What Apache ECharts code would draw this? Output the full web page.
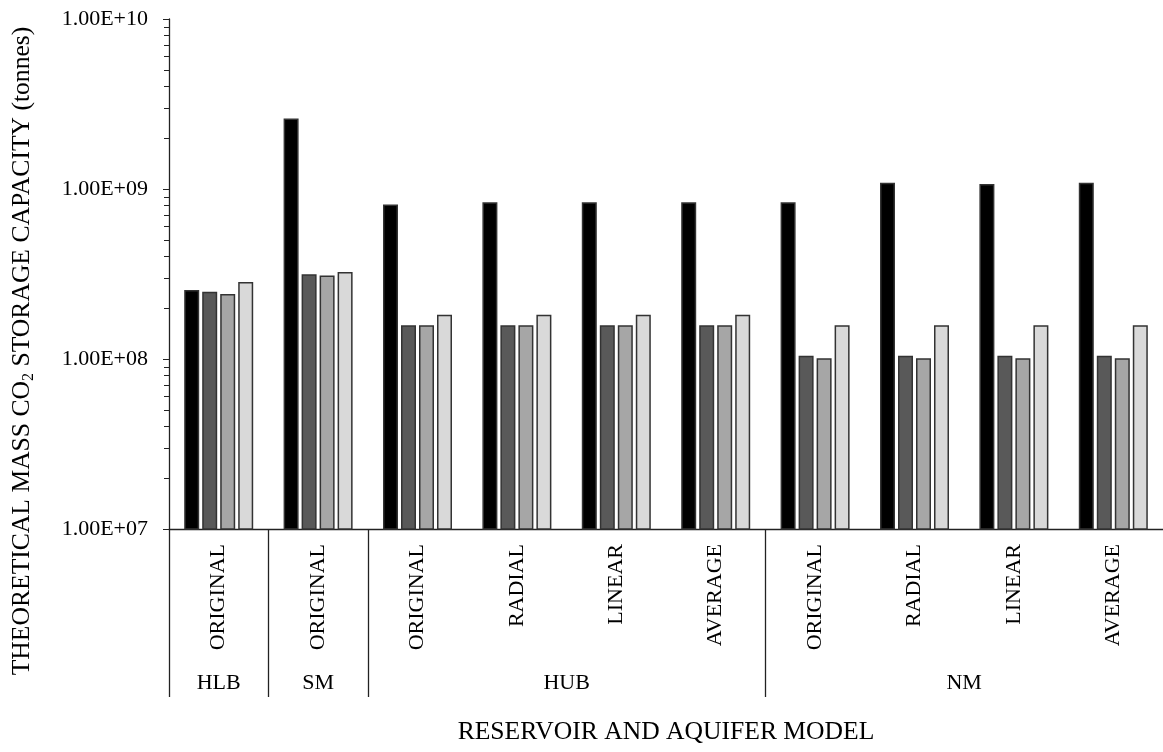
<!DOCTYPE html>
<html>
<head>
<meta charset="utf-8">
<script src="https://cdn.jsdelivr.net/npm/echarts@6/dist/echarts.min.js"></script>
<style>
html,body{margin:0;padding:0;background:#fff;}
#chart{width:1163px;height:752px;}
</style>
</head>
<body>
<div id="chart"></div>
<script>
// ---- data ----
const categories = ['ORIGINAL','ORIGINAL','ORIGINAL','RADIAL','LINEAR','AVERAGE','ORIGINAL','RADIAL','LINEAR','AVERAGE'];
const groups = ['HLB','SM','HUB','NM'];
const groupSizes = [1,1,4,4];
const series1 = [2.55e8, 2.6e9, 8.1e8, 8.35e8, 8.35e8, 8.35e8, 8.35e8, 1.09e9, 1.07e9, 1.09e9];
const series2 = [2.49e8, 3.15e8, 1.58e8, 1.58e8, 1.58e8, 1.58e8, 1.045e8, 1.045e8, 1.045e8, 1.045e8];
const series3 = [2.41e8, 3.1e8, 1.58e8, 1.58e8, 1.58e8, 1.58e8, 1.01e8, 1.01e8, 1.01e8, 1.01e8];
const series4 = [2.84e8, 3.25e8, 1.82e8, 1.82e8, 1.82e8, 1.82e8, 1.58e8, 1.58e8, 1.58e8, 1.58e8];
const yTickValues = [1e7, 1e8, 1e9, 1e10];

// group boundaries and centers (in category units)
const groupBounds = [0];
const groupCenters = [];
groupSizes.forEach((s, i) => {
  const start = groupBounds[groupBounds.length - 1];
  groupCenters.push(start + s / 2);
  groupBounds.push(start + s);
});
const sepValues = groupBounds.slice(0, groupBounds.length - 1);

// minor log ticks (in exponent units)
const minorTicks = [];
for (let d = 7; d < 10; d++) {
  for (let k = 2; k <= 9; k++) minorTicks.push(Math.log10(k * Math.pow(10, d)));
}

const FONT = 'Liberation Serif';
const colors = ['#000000', '#595959', '#a6a6a6', '#d9d9d9'];

function fmtE(v) {
  const e = Math.round(Math.log10(v));
  const m = v / Math.pow(10, e);
  return m.toFixed(2) + 'E' + (e < 0 ? '-' : '+') + (Math.abs(e) < 10 ? '0' : '') + Math.abs(e);
}

const chart = echarts.init(document.getElementById('chart'), null, {renderer: 'canvas'});
const seriesData = [series1, series2, series3, series4];

chart.setOption({
  animation: false,
  backgroundColor: '#fff',
  textStyle: {fontFamily: FONT, color: '#000'},
  grid: {left: 169, right: -3, top: 19, bottom: 223, containLabel: false},
  xAxis: [
    {
      type: 'category',
      data: categories,
      axisLine: {onZero: false, lineStyle: {color: '#222', width: 1.3}},
      axisTick: {show: false},
      axisLabel: {rotate: 90, interval: 0, margin: 15, fontFamily: FONT, fontSize: 22, color: '#000'},
      name: 'RESERVOIR AND AQUIFER MODEL',
      nameLocation: 'middle',
      nameGap: 190,
      nameTextStyle: {fontFamily: FONT, fontSize: 25.6, color: '#000'}
    },
    {
      type: 'value',
      min: 0,
      max: categories.length,
      position: 'bottom',
      axisLine: {show: false, onZero: false},
      splitLine: {show: false},
      axisTick: {show: true, customValues: sepValues, length: 168, inside: false, lineStyle: {color: '#222', width: 1.3}},
      axisLabel: {
        show: true,
        customValues: groupCenters,
        margin: 143,
        fontFamily: FONT, fontSize: 22, color: '#000',
        formatter: function (v) {
          const i = groupCenters.findIndex(c => Math.abs(c - v) < 1e-6);
          return i >= 0 ? groups[i] : '';
        }
      }
    }
  ],
  yAxis: [
    {
      type: 'log',
      logBase: 10,
      min: 1e7,
      max: 1e10,
      position: 'left',
      axisLine: {show: true, onZero: false, lineStyle: {color: '#222', width: 1.3}},
      axisTick: {show: true, length: 6, lineStyle: {color: '#222'}},
      splitLine: {show: false},
      axisLabel: {
        margin: 21,
        fontFamily: FONT, fontSize: 22, color: '#000',
        formatter: function (v) { return fmtE(v); }
      }
    },
    {
      type: 'value',
      min: 7,
      max: 10,
      position: 'left',
      axisLine: {show: false, onZero: false},
      splitLine: {show: false},
      axisLabel: {show: false},
      axisTick: {show: true, customValues: minorTicks, length: 5, lineStyle: {color: '#222'}}
    }
  ],
  graphic: [
    {
      type: 'text',
      x: 22,
      y: 351,
      rotation: Math.PI / 2,
      style: {
        text: 'THEORETICAL MASS CO{sub|2} STORAGE CAPACITY (tonnes)',
        fontFamily: FONT,
        fontSize: 25.6,
        fill: '#000',
        align: 'center',
        verticalAlign: 'middle',
        rich: {
          sub: {fontFamily: FONT, fontSize: 16, fill: '#000', padding: [13, 0, 0, 0]}
        }
      }
    }
  ],
  series: seriesData.map((d, i) => ({
    type: 'bar',
    name: 'Series ' + (i + 1),
    data: d,
    xAxisIndex: 0,
    yAxisIndex: 0,
    barWidth: 15,
    barGap: '20%',
    itemStyle: {color: colors[i], borderColor: '#333', borderWidth: 1.5}
  }))
});
</script>
</body>
</html>
